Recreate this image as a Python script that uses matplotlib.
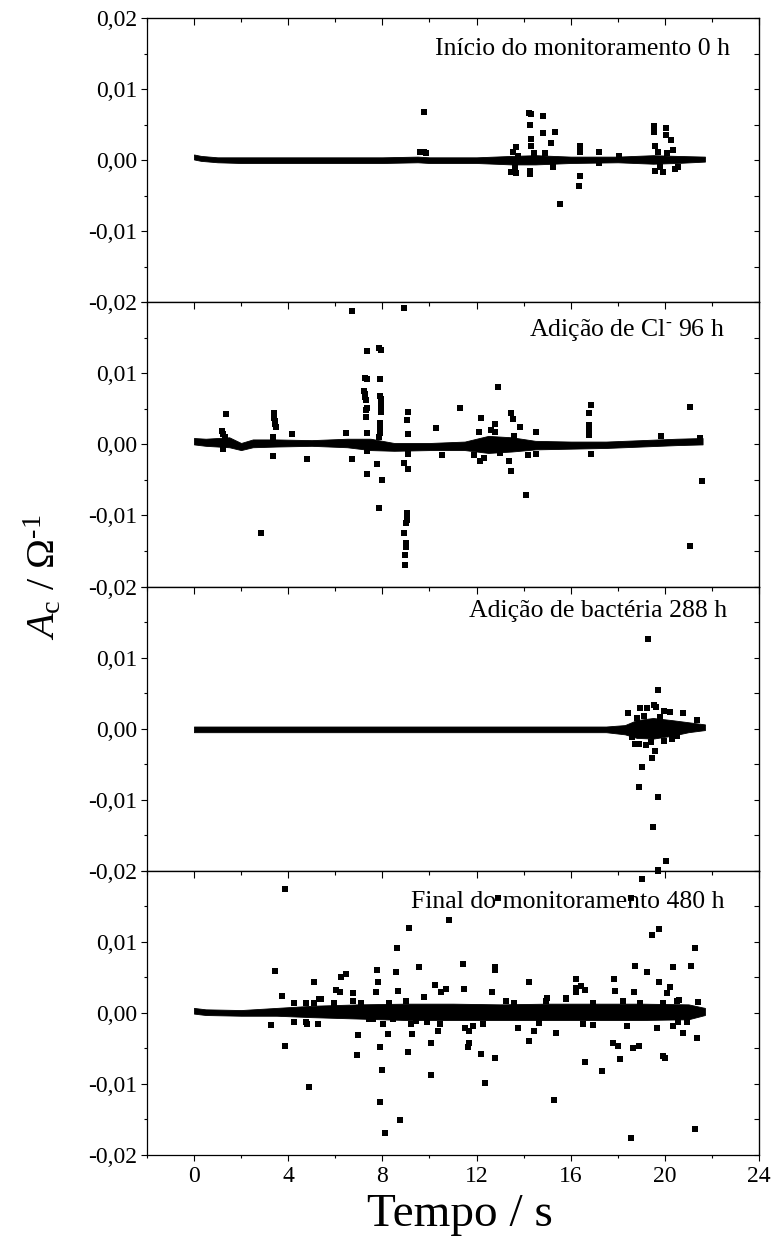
import matplotlib
matplotlib.use('Agg')
import matplotlib.pyplot as plt
from matplotlib.ticker import MultipleLocator, FuncFormatter

plt.rcParams['font.family'] = ['Liberation Serif', 'DejaVu Serif']
plt.rcParams['mathtext.fontset'] = 'custom'
plt.rcParams['mathtext.rm'] = 'Liberation Serif'
plt.rcParams['mathtext.it'] = 'Liberation Serif:italic'
plt.rcParams['mathtext.bf'] = 'Liberation Serif:bold'

# ---------------- data ----------------
titles = ['Início do monitoramento 0 h',
          r'Adição de Cl$^{\text{-}}$ 96 h',
          'Adição de bactéria 288 h',
          'Final do monitoramento 480 h']

x_ticks = [0, 4, 8, 12, 16, 20, 24]
y_ticks = [-0.02, -0.01, 0.00, 0.01, 0.02]

# dense baseline band (lower / upper envelope of the packed points)
p1_band_x = [0.0, 0.3, 1.0, 2.0, 4.0, 6.0, 8.0, 9.5, 10.0, 12.0, 13.5, 14.5, 16.0, 18.0, 19.5, 20.5, 21.7]
p1_band_lo = [0.0001, -0.0001, -0.0003, -0.0004, -0.0004, -0.0004, -0.0004, -0.0003, -0.0004, -0.0004,
              -0.0006, -0.0006, -0.0004, -0.0003, -0.0005, -0.0004, -0.0002]
p1_band_hi = [0.0008, 0.0006, 0.0004, 0.0004, 0.0004, 0.0004, 0.0004, 0.0005, 0.0004, 0.0004,
              0.0006, 0.0007, 0.0005, 0.0005, 0.0007, 0.0006, 0.0005]

p1_x = [9.62, 9.75, 9.85, 9.79, 13.48, 13.55, 13.62, 13.69, 13.69, 13.75, 14.21, 14.32, 14.28, 14.30,
        14.26, 14.26, 14.32, 14.45, 14.82, 14.82, 14.90, 15.18, 15.32, 15.25, 15.53, 16.38, 16.36, 16.38,
        16.40, 17.21, 17.21, 18.06, 19.53, 19.53, 19.58, 19.58, 19.70, 19.80, 19.93, 20.04, 20.04, 20.10,
        20.26, 20.35, 20.57, 20.45]
p1_y = [0.0011, 0.0012, 0.0010, 0.0068, -0.0016, 0.0012, -0.0010, 0.0019, -0.0018, 0.0006, 0.0066, 0.0065,
        0.0049, 0.0030, -0.0019, -0.0015, 0.0020, 0.0010, 0.0062, 0.0038, 0.0010, 0.0024, 0.0039, -0.0009,
        -0.0062, -0.0022, -0.0037, 0.0020, 0.0012, 0.0011, -0.0004, 0.0006, 0.0048, 0.0039, 0.0020, -0.0015,
        0.0012, -0.0010, -0.0016, 0.0045, 0.0036, 0.0010, 0.0029, 0.0015, -0.0009, -0.0012]

p2_band_x = [0.0, 0.5, 1.5, 2.0, 2.5, 3.5, 5.0, 6.5, 7.5, 8.5, 10.0, 11.5, 12.5, 13.5, 14.5, 16.0, 17.5,
             19.0, 20.5, 21.6]
p2_band_lo = [0.0000, -0.0002, -0.0004, -0.0008, -0.0004, -0.0003, -0.0002, -0.0004, -0.0008, -0.0009,
              -0.0008, -0.0008, -0.0012, -0.0010, -0.0007, -0.0006, -0.0005, -0.0003, -0.0001, 0.0000]
p2_band_hi = [0.0009, 0.0008, 0.0010, 0.0002, 0.0007, 0.0007, 0.0006, 0.0008, 0.0008, 0.0002,
              0.0002, 0.0004, 0.0012, 0.0010, 0.0005, 0.0004, 0.0004, 0.0006, 0.0008, 0.0009]

p2_x = [1.20, 1.25, 1.30, 1.35, 1.22, 2.86, 3.36, 3.40, 3.42, 3.44, 3.45, 3.47, 3.37, 4.18, 4.82, 6.45,
        6.70, 6.70,
        7.23, 7.25, 7.26, 7.28, 7.30, 7.31, 7.33, 7.35, 7.35, 7.36, 7.35, 7.33, 7.30,
        7.76, 7.84, 7.87, 7.87, 7.88, 7.90, 7.91, 7.92, 7.92, 7.93, 7.94, 7.95, 7.96, 7.96, 7.97,
        8.91, 8.91, 8.94, 8.96, 8.97, 8.99, 9.01, 9.02, 9.03, 9.04, 9.05, 9.06, 9.08, 9.08, 9.09, 9.09,
        10.28, 10.54, 11.28, 11.90, 12.10, 12.15, 12.20, 12.30, 12.60, 12.77, 12.80, 12.91, 13.00, 13.40,
        13.45, 13.48, 13.55, 13.60, 13.83, 14.11, 14.20, 14.54, 14.54,
        16.78, 16.78, 16.78, 16.78, 16.85, 16.88, 19.82, 21.06, 21.06, 21.50, 21.59]
p2_y = [0.0019, 0.0015, 0.0010, 0.0043, -0.0007, -0.0124, -0.0016, 0.0044, 0.0037, 0.0033, 0.0029, 0.0025,
        0.0011, 0.0014, -0.0020, 0.0016, -0.0020, 0.0188,
        0.0075, 0.0071, 0.0094, 0.0067, 0.0039, 0.0063, 0.0092, 0.0131, 0.0051, -0.0009, -0.0042, 0.0016, 0.0048,
        -0.0027, -0.0090, 0.0136, 0.0011, 0.0016, 0.0025, 0.0030, 0.0092, 0.0068, 0.0064, 0.0058, 0.0050,
        0.0133, 0.0045, -0.0050,
        0.0192, -0.0026, -0.0124, -0.0170, -0.0156, -0.0144, -0.0139, -0.0111, -0.0107, -0.0102, -0.0097,
        0.0035, 0.0046, -0.0034, 0.0014, -0.0014,
        0.0023, -0.0015, 0.0051, -0.0015, 0.0018, -0.0024, 0.0037, -0.0019, 0.0020, 0.0029, 0.0017, 0.0081,
        -0.0012, -0.0024, -0.0037, 0.0044, 0.0036, 0.0012, 0.0024, -0.0071, -0.0015, 0.0018, -0.0014,
        0.0044, 0.0027, 0.0020, 0.0013, 0.0055, -0.0013, 0.0012, 0.0052, -0.0143, 0.0009, -0.0052]

p3_band_x = [0.0, 5.0, 10.0, 15.0, 17.5, 18.3, 18.8, 19.5, 20.3, 21.0, 21.7]
p3_band_lo = [-0.0005, -0.0005, -0.0005, -0.0005, -0.0005, -0.0008, -0.0013, -0.0014, -0.0010, -0.0005, -0.0002]
p3_band_hi = [0.0003, 0.0003, 0.0003, 0.0003, 0.0003, 0.0005, 0.0012, 0.0015, 0.0012, 0.0009, 0.0006]

p3_x = [18.44, 18.60, 18.72, 18.90, 18.91, 18.96, 19.04, 19.18, 19.26, 19.29, 19.40, 19.46, 19.48, 19.52,
        19.57, 19.62, 19.69, 19.69, 19.69, 19.96, 19.97, 20.06, 20.20, 20.50, 20.78, 21.35, 18.80, 19.10,
        19.80, 20.30]
p3_y = [0.0022, -0.0012, -0.0022, -0.0022, -0.0082, 0.0029, -0.0054, -0.0023, 0.0029, 0.0126, -0.0019,
        -0.0042, -0.0139, 0.0033, -0.0031, 0.0031, 0.0054, -0.0096, -0.0199, 0.0025, -0.0017, -0.0186,
        0.0024, -0.0011, 0.0022, 0.0012, 0.0015, 0.0018, 0.0016, -0.0014]

p4_band_x = [0.0, 0.5, 2.0, 3.5, 5.0, 7.0, 9.0, 11.0, 13.0, 15.0, 17.0, 19.0, 21.0, 21.7]
p4_band_lo = [-0.0001, -0.0003, -0.0004, -0.0004, -0.0006, -0.0008, -0.0010, -0.0010, -0.0010, -0.0010,
              -0.0010, -0.0010, -0.0009, -0.0003]
p4_band_hi = [0.0007, 0.0005, 0.0004, 0.0007, 0.0010, 0.0012, 0.0013, 0.0013, 0.0012, 0.0013,
              0.0013, 0.0013, 0.0012, 0.0007]

p4_x = [3.86, 3.45, 3.76, 3.29, 3.86, 4.26, 4.76, 4.82, 5.25, 4.89, 5.11, 5.32, 6.24, 6.45, 6.03, 6.21,
        6.74, 6.95, 6.92, 7.77, 7.83, 7.73, 7.45, 8.01, 7.90, 7.98, 7.90, 8.11, 8.22, 8.62, 9.12, 8.58,
        8.65, 9.54, 9.22, 9.26, 9.09, 8.75, 10.08, 10.08, 10.24, 10.71, 10.35, 10.85,
        12.91, 18.58, 19.01, 19.72, 11.42, 11.45, 12.77, 12.79, 12.67, 14.21, 11.70, 11.66, 11.63, 11.84,
        12.20, 12.34, 12.77, 14.21, 14.44, 15.39, 15.29, 16.24, 16.24, 16.43, 16.60, 16.21, 15.82, 16.60,
        17.31, 17.84, 17.87, 17.80, 18.01, 18.08, 18.72, 18.68, 18.65, 18.89, 18.58, 19.22, 19.46, 19.76,
        19.76, 20.21, 20.07, 20.35, 19.93, 20.00, 20.78, 21.28, 21.09, 21.35, 21.28, 21.42, 20.57, 20.92,
        20.60, 15.00]
p4_y = [0.0174, 0.0059, 0.0024, -0.0017, -0.0047, -0.0013, -0.0013, -0.0015, -0.0016, -0.0104, 0.0044,
        0.0020, 0.0050, 0.0055, 0.0032, 0.0029, 0.0028, -0.0031, -0.0059, 0.0061, 0.0044, 0.0029, -0.0009,
        -0.0016, -0.0048, -0.0080, -0.0125, -0.0169, -0.0029, 0.0091, 0.0120, 0.0057, 0.0031, 0.0064,
        -0.0016, -0.0030, -0.0055, -0.0151, -0.0043, -0.0088, 0.0039, 0.0034, -0.0025, 0.0131,
        0.0162, 0.0162, 0.0189, 0.0200, 0.0069, 0.0034, 0.0064, 0.0060, 0.0029, 0.0043, -0.0025, -0.0042,
        -0.0048, -0.0018, -0.0058, -0.0098, -0.0064, -0.0039, -0.0026, -0.0028, -0.0122, 0.0047, 0.0035,
        0.0038, 0.0032, 0.0029, 0.0021, -0.0069, -0.0082, 0.0047, 0.0031, -0.0042, -0.0046, -0.0065, 0.0066,
        0.0030, -0.0049, -0.0046, -0.0176, 0.0057, 0.0109, 0.0118, 0.0043, 0.0036, 0.0028, 0.0064, -0.0060,
        -0.0063, -0.0028, 0.0091, 0.0066, -0.0036, -0.0164, 0.0015, -0.0013, -0.0013, 0.0018, 0.0021]

p4_edge_x = [4.26, 4.76, 5.11, 5.40, 5.96, 6.74, 7.09, 8.30, 9.00, 9.79, 10.50, 13.26, 13.60, 14.96, 15.81,
             16.95, 18.22, 18.93, 19.93, 20.50,
             7.59, 8.45, 9.45, 9.88, 10.45, 11.49, 12.27, 13.75, 14.67, 16.52, 16.95, 18.37, 19.65, 20.35]
p4_edge_y = [0.0014, 0.0014, 0.0014, 0.0020, 0.0014, 0.0017, 0.0014, 0.0014, 0.0017, 0.0022, 0.0029,
             0.0017, 0.0014, 0.0017, 0.0019, 0.0014, 0.0017, 0.0014, 0.0014, 0.0017,
             -0.0009, -0.0009, -0.0011, -0.0013, -0.0016, -0.0021, -0.0016, -0.0021, -0.0014, -0.0016,
             -0.0017, -0.0018, -0.0021, -0.0018]

panels = [
    (p1_band_x, p1_band_lo, p1_band_hi, [(p1_x, p1_y)]),
    (p2_band_x, p2_band_lo, p2_band_hi, [(p2_x, p2_y)]),
    (p3_band_x, p3_band_lo, p3_band_hi, [(p3_x, p3_y)]),
    (p4_band_x, p4_band_lo, p4_band_hi, [(p4_x, p4_y), (p4_edge_x, p4_edge_y)]),
]
title_pos = [(0.9526, 0.870), (0.944, 0.880), (0.948, 0.894), (0.944, 0.870)]

# ---------------- figure ----------------
fig = plt.figure(figsize=(7.73, 12.53), dpi=100)
gs = fig.add_gridspec(4, 1, left=0.190, right=0.982, top=0.9856, bottom=0.0782, hspace=0)


def make_yfmt(show_top):
    def yfmt(v, pos):
        if not show_top and v > 0.0195:
            return ''
        s = '%.2f' % v
        if s == '-0.00':
            s = '0.00'
        return s.replace('.', ',')
    return yfmt


def xfmt(v, pos):
    return '%d' % round(v)


for i, (bx, blo, bhi, pts) in enumerate(panels):
    ax = fig.add_subplot(gs[i])
    ax.fill_between(bx, blo, bhi, color='black', lw=0.6, zorder=3)
    for (xs, ys) in pts:
        ax.plot(xs, ys, 's', color='black', ms=4.0, mew=0, zorder=4)
    ax.set_xlim(-2, 24)
    ax.set_ylim(-0.02, 0.02)

    ax.xaxis.set_major_locator(MultipleLocator(4))
    ax.xaxis.set_minor_locator(MultipleLocator(2))
    ax.yaxis.set_major_locator(MultipleLocator(0.01))
    ax.yaxis.set_minor_locator(MultipleLocator(0.005))
    ax.yaxis.set_major_formatter(FuncFormatter(make_yfmt(i == 0)))
    ax.xaxis.set_major_formatter(FuncFormatter(xfmt))

    ax.tick_params(axis='y', which='major', direction='out', length=4, width=0.8,
                   labelsize=17, pad=3, left=True, right=False)
    ax.tick_params(axis='y', which='minor', direction='out', length=2.5, width=0.8,
                   left=True, right=False)
    last = (i == 3)
    ax.tick_params(axis='x', which='major', direction='out', length=4, width=0.8,
                   labelsize=17, pad=4, bottom=last, top=False, labelbottom=last)
    ax.tick_params(axis='x', which='minor', direction='out', length=2.5, width=0.8,
                   bottom=last, top=False)

    # inward ticks on top and right
    sx = ax.secondary_xaxis('top')
    sx.xaxis.set_major_locator(MultipleLocator(4))
    sx.xaxis.set_minor_locator(MultipleLocator(2))
    sx.tick_params(axis='x', which='major', direction='in', length=5, width=0.8, labeltop=False)
    sx.tick_params(axis='x', which='minor', direction='in', length=3, width=0.8)
    sy = ax.secondary_yaxis('right')
    sy.yaxis.set_major_locator(MultipleLocator(0.005))
    sy.yaxis.set_minor_locator(MultipleLocator(0.005))
    sy.tick_params(axis='y', which='major', direction='in', length=3.5, width=0.8, labelright=False)

    for sp in ax.spines.values():
        sp.set_linewidth(0.9)

    tx, ty = title_pos[i]
    ax.text(tx, ty, titles[i], transform=ax.transAxes, ha='right', va='baseline',
            fontsize=18.5, zorder=1)

fig.text(0.056, 0.5395, r'$A_{\mathrm{c}}$ / $\Omega^{\text{-1}}$', rotation=90,
         ha='center', va='center', fontsize=29)
fig.text(0.595, 0.0303, 'Tempo / s', ha='center', va='center', fontsize=34)

fig.savefig('out.png', dpi=100)
